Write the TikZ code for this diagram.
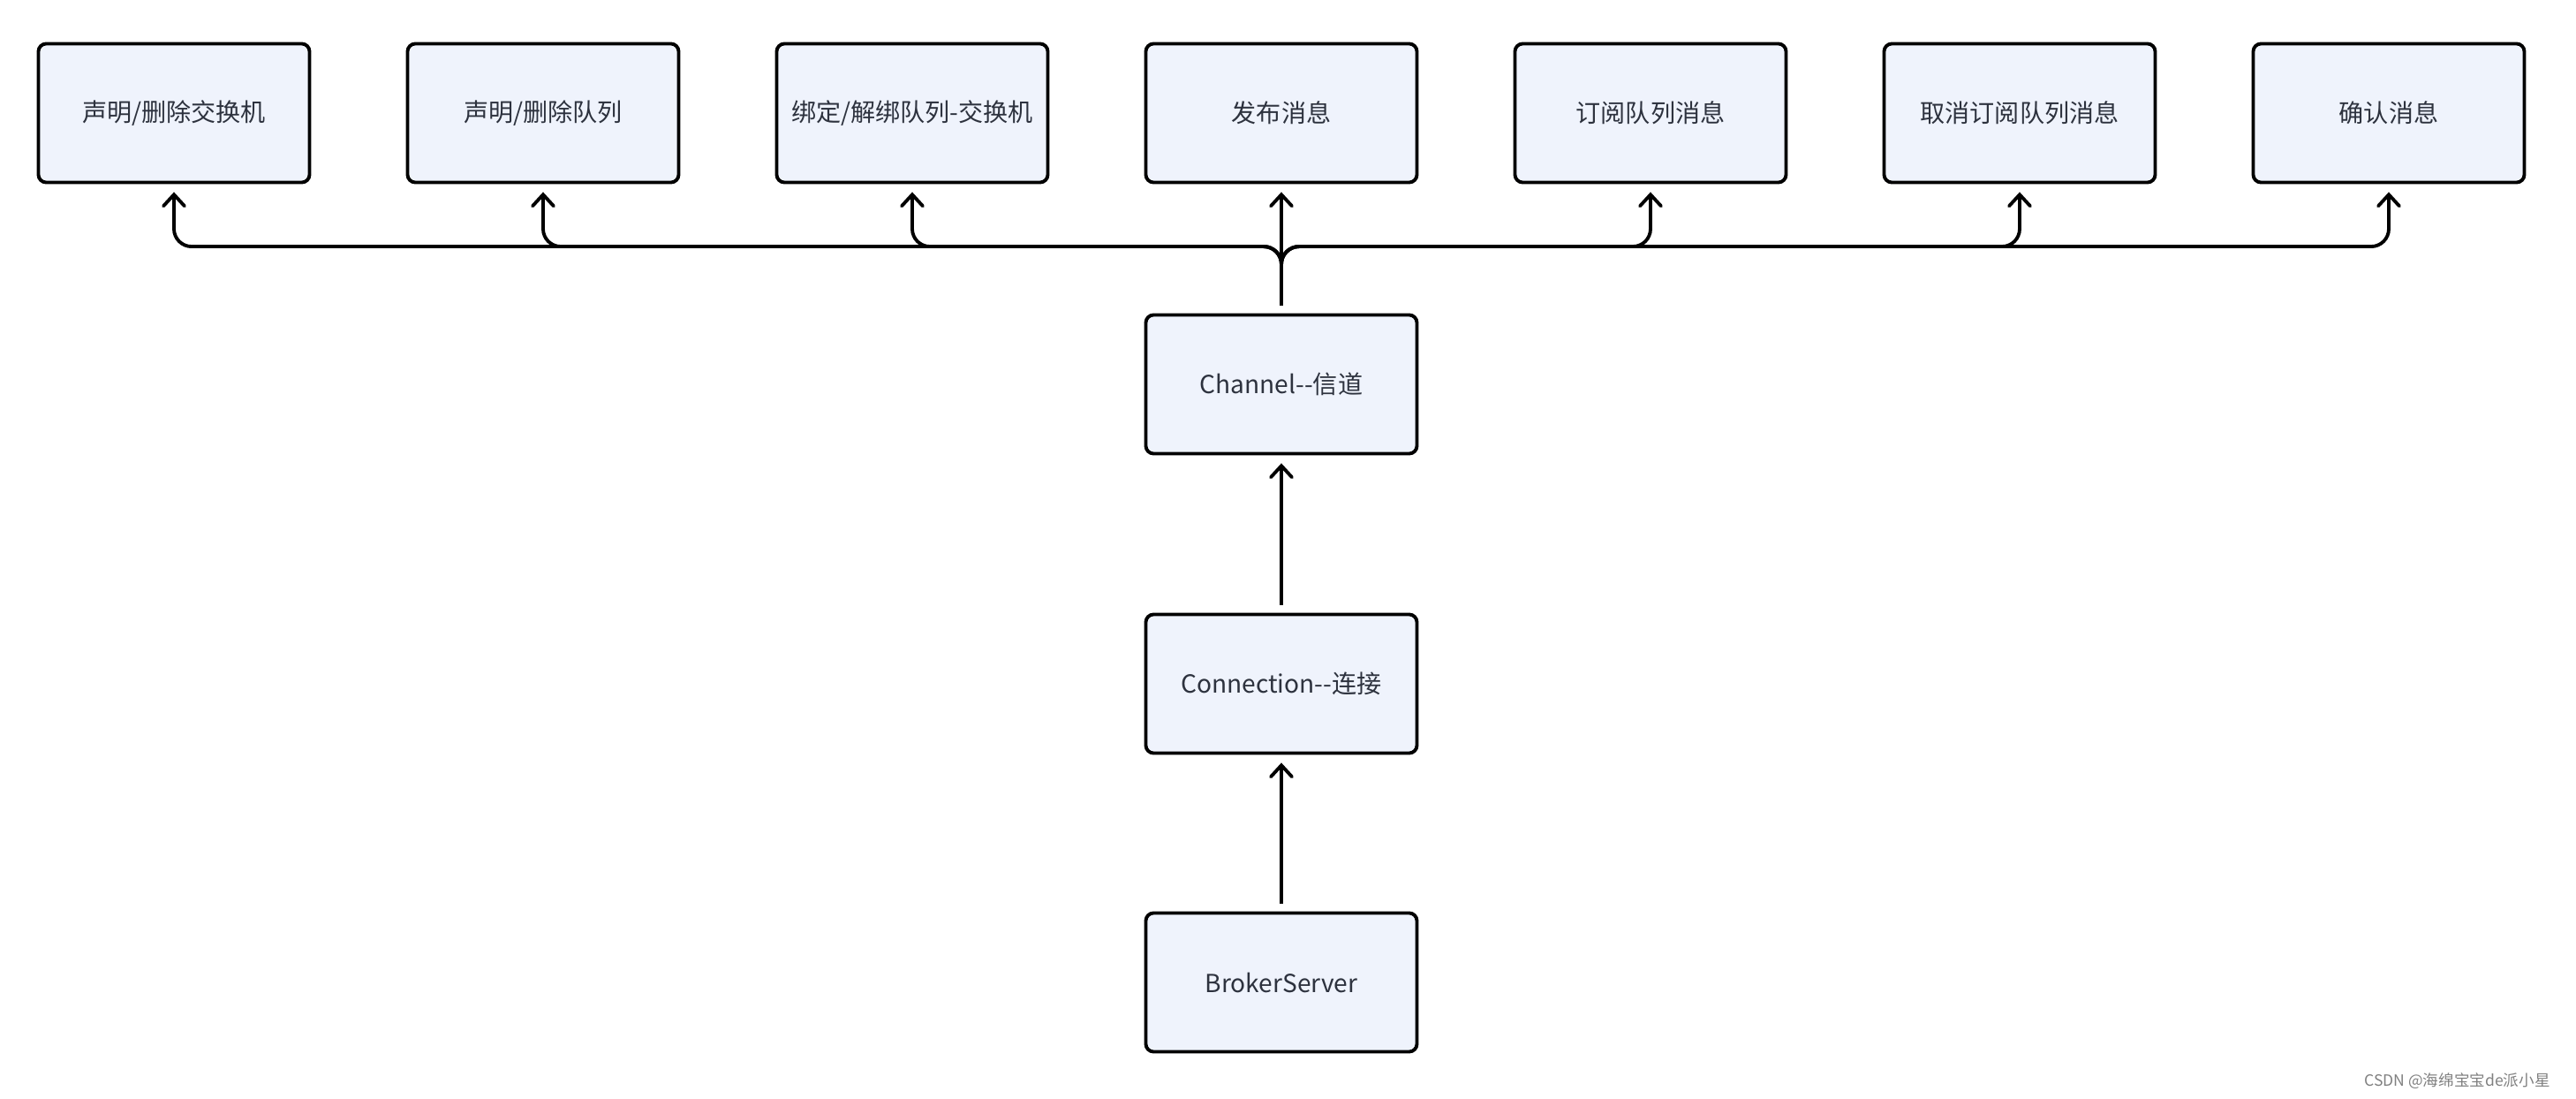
\documentclass[tikz,border=0pt]{standalone}
\usepackage{fontspec}
\setmainfont{Noto Sans CJK SC}
\usepackage{tikz}
\usetikzlibrary{arrows.meta}
\definecolor{boxfill}{RGB}{239,243,252}
\definecolor{ink}{RGB}{45,50,62}

\begin{document}
\begin{tikzpicture}[>={Straight Barb[length=0.13cm,width=0.24cm,line cap=round]},
  box/.style={draw, line width=1.1pt, rounded corners=2.5pt, fill=boxfill,
    minimum width=3.07cm, minimum height=1.57cm, text=ink,
    font=\fontsize{8}{10}\selectfont},
  link/.style={->, line width=1.1pt, shorten >=0.09cm, shorten <=0.09cm}]
\useasboundingbox (0,0) rectangle (29.17,12.43);

% operations on top
\foreach \name/\txt [count=\i] in {exdecl/{声明/删除交换机}, qdecl/{声明/删除队列},
    bind/{绑定/解绑队列-交换机}, pub/发布消息, sub/订阅队列消息,
    unsub/取消订阅队列消息, ack/确认消息}
  \node[box] (\name) at ({1.97+4.18*(\i-1)},11.15) {\txt};

\node[box] (chan) at (14.51,8.08) {Channel-\kern0pt-信道};
\node[box] (conn) at (14.51,4.69) {Connection-\kern0pt-连接};
\node[box] (broker) at (14.51,1.31) {BrokerServer};

\draw[link] (broker) -- (conn);
\draw[link] (conn) -- (chan);
\draw[link] (chan) -- (pub);
\foreach \name in {exdecl,qdecl,bind,sub,unsub,ack}
  \draw[link, rounded corners=0.2cm] (chan.north) -- ++(0,0.755) -| (\name.south);

\node[text=gray, font=\fontsize{5}{6}\selectfont, anchor=east] (mark) at (29.0,0.19)
  {CSDN @海绵宝宝de派小星};
\end{tikzpicture}
\end{document}
